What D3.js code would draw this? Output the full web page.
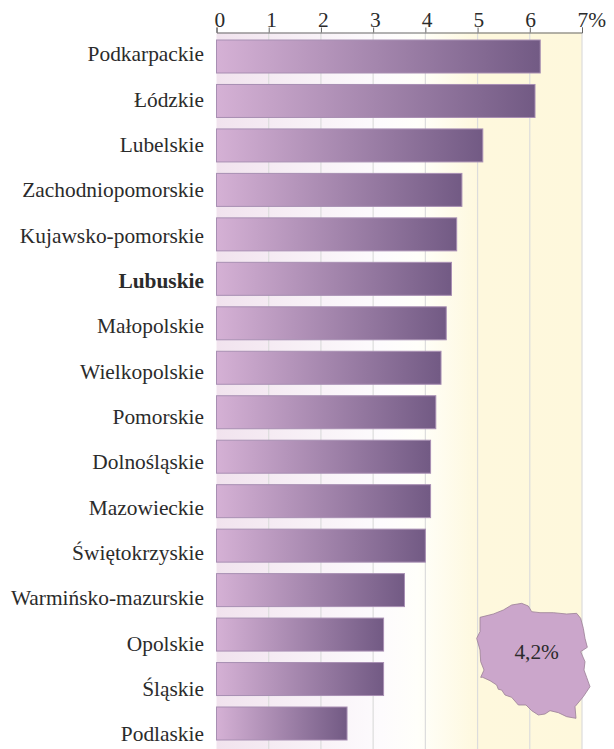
<!DOCTYPE html>
<html>
<head>
<meta charset="utf-8">
<script src="https://cdn.jsdelivr.net/npm/d3@7"></script>
<style>
    html, body { margin: 0; padding: 0; background: #fff; }
    text { font-family: "Liberation Serif", serif; fill: #2b2b2b; }
</style>
</head>
<body>
<div id="chart"></div>
<script>
var regions = ["Podkarpackie", "Łódzkie", "Lubelskie", "Zachodniopomorskie", "Kujawsko-pomorskie",
    "Lubuskie", "Małopolskie", "Wielkopolskie", "Pomorskie", "Dolnośląskie", "Mazowieckie",
    "Świętokrzyskie", "Warmińsko-mazurskie", "Opolskie", "Śląskie", "Podlaskie"];
var values = [6.2, 6.1, 5.1, 4.7, 4.6, 4.5, 4.4, 4.3, 4.2, 4.1, 4.1, 4.0, 3.6, 3.2, 3.2, 2.5];
var tickValues = [0, 1, 2, 3, 4, 5, 6, 7];
var highlighted = "Lubuskie";
var nationalLabel = "4,2%";

// outline of the country (units of the inset box below)
var mapOutline = [[60,82],[100,72],[130,60],[155,45],[185,40],[205,48],[215,65],[240,68],[280,68],[320,72],
    [350,70],[362,85],[370,115],[375,145],[382,172],[362,185],[375,215],[372,240],[380,262],[390,290],
    [370,320],[345,350],[348,385],[320,380],[295,368],[270,362],[255,372],[235,375],[215,362],[198,345],
    [175,345],[155,322],[135,315],[125,300],[115,298],[110,285],[90,272],[68,262],[62,262],[72,240],
    [62,215],[60,180],[50,145],[60,125]];

var width = 614, height = 749;
var svg = d3.select("#chart").append("svg")
    .attr("width", width)
    .attr("height", height)
    .style("display", "block");

var x = d3.scaleLinear().domain([0, 7]).range([216.5, 582]);
var y = d3.scaleBand().domain(regions).range([40, 740]).paddingInner(0.258).paddingOuter(0);

// labels drift a little from the bars in the original, so they get their own scales
var labelY = d3.scalePoint().domain(regions).range([54.5, 734.5]);
var tickLabelX = d3.scaleLinear().domain([0, 7]).range([219.3, 582]);

var defs = svg.append("defs");

var bgGrad = defs.append("linearGradient").attr("id", "bgGrad");
bgGrad.append("stop").attr("offset", "0").attr("stop-color", "#f1e3ee");
bgGrad.append("stop").attr("offset", "0.45").attr("stop-color", "#fdfbfd");
bgGrad.append("stop").attr("offset", "0.55").attr("stop-color", "#fffffa");
bgGrad.append("stop").attr("offset", "0.72").attr("stop-color", "#fef8dd");
bgGrad.append("stop").attr("offset", "1").attr("stop-color", "#fef8dc");

var barGrad = defs.append("linearGradient").attr("id", "barGrad");
barGrad.append("stop").attr("offset", "0").attr("stop-color", "#d5b1d5");
barGrad.append("stop").attr("offset", "1").attr("stop-color", "#725a84");

// background
svg.append("rect")
    .attr("x", x(0))
    .attr("y", 32.5)
    .attr("width", x(7) - x(0))
    .attr("height", height - 32.5)
    .attr("fill", "url(#bgGrad)");

// gridlines
svg.selectAll(".grid")
    .data(tickValues.slice(1))
    .enter()
    .append("line")
    .attr("class", "grid")
    .attr("x1", function(d) { return x(d); })
    .attr("x2", function(d) { return x(d); })
    .attr("y1", 32.5)
    .attr("y2", height)
    .attr("stroke", "#dcdcdc")
    .attr("stroke-width", 1.2);

// top axis
var axis = d3.axisTop(x)
    .tickValues(tickValues)
    .tickSize(5)
    .tickPadding(1)
    .tickFormat(function(d) { return d; });

var axisG = svg.append("g")
    .attr("transform", "translate(0,32.5)")
    .call(axis);

axisG.select(".domain").attr("stroke", "#666").attr("stroke-width", 1);
axisG.selectAll(".tick line").attr("stroke", "#666");
axisG.selectAll(".tick text")
    .style("font-family", "'Liberation Serif', serif")
    .style("font-size", "21.4px")
    .attr("fill", "#2b2b2b")
    .attr("x", function(d) { return tickLabelX(d) - x(d); });

// the % sign hangs past the last tick
axisG.selectAll(".tick")
    .filter(function(d) { return d === 7; })
    .select("text")
    .attr("text-anchor", "start")
    .attr("dx", "-5")
    .text("7%");

// bars
svg.selectAll(".bar")
    .data(regions)
    .enter()
    .append("rect")
    .attr("class", "bar")
    .attr("x", x(0))
    .attr("y", function(d) { return y(d); })
    .attr("width", function(d, i) { return x(values[i]) - x(0); })
    .attr("height", y.bandwidth())
    .attr("fill", "url(#barGrad)")
    .attr("stroke", "#a88fb3")
    .attr("stroke-width", 1);

// region labels
svg.selectAll(".label")
    .data(regions)
    .enter()
    .append("text")
    .attr("class", "label")
    .attr("x", 204)
    .attr("y", function(d) { return labelY(d); })
    .attr("dy", "0.32em")
    .attr("text-anchor", "end")
    .style("font-size", "21.4px")
    .style("font-weight", function(d) { return d === highlighted ? "bold" : "normal"; })
    .text(function(d) { return d; });

// inset map
var mapX = d3.scaleLinear().domain([0, 420]).range([460, 600]);
var mapY = d3.scaleLinear().domain([0, 420]).range([590, 730]);
var mapLine = d3.line()
    .x(function(d) { return mapX(d[0]); })
    .y(function(d) { return mapY(d[1]); })
    .curve(d3.curveLinearClosed);

svg.append("path")
    .attr("d", mapLine(mapOutline))
    .attr("fill", "#cba6cb")
    .attr("stroke", "#9a8096")
    .attr("stroke-width", 0.8);

svg.append("text")
    .attr("x", mapX(230))
    .attr("y", mapY(208))
    .attr("text-anchor", "middle")
    .style("font-size", "21.4px")
    .text(nationalLabel);
</script>
</body>
</html>
